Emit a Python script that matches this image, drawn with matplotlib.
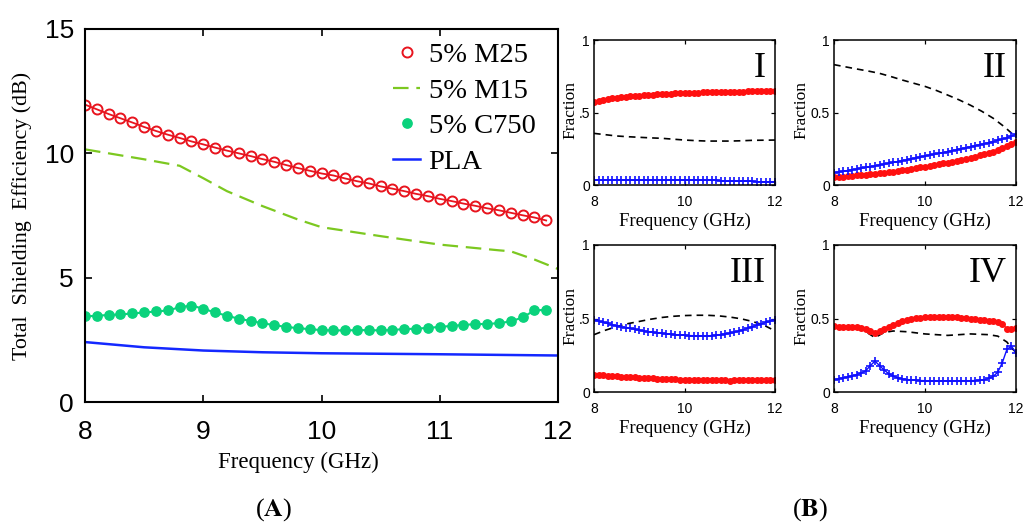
import matplotlib
matplotlib.use('Agg')
import matplotlib.pyplot as plt
import numpy as np

SANS = 'Liberation Sans'
SERIF = 'Liberation Serif'

# ---- panel A: total shielding efficiency ----
freq_a = np.round(np.arange(8.0, 11.95, 0.1), 1)
m25 = [11.96, 11.77, 11.58, 11.41, 11.24, 11.06, 10.90, 10.75, 10.62, 10.48,
       10.36, 10.23, 10.11, 10.00, 9.89, 9.77, 9.66, 9.53, 9.41, 9.30,
       9.19, 9.11, 8.99, 8.88, 8.79, 8.67, 8.58, 8.48, 8.37, 8.28,
       8.17, 8.08, 7.98, 7.89, 7.79, 7.71, 7.61, 7.51, 7.42, 7.30]
c750 = [3.44, 3.47, 3.50, 3.52, 3.56, 3.60, 3.64, 3.68, 3.81, 3.88,
        3.75, 3.60, 3.47, 3.35, 3.26, 3.17, 3.09, 3.02, 2.97, 2.93,
        2.89, 2.88, 2.88, 2.89, 2.89, 2.88, 2.90, 2.93, 2.95, 2.98,
        3.02, 3.06, 3.10, 3.13, 3.14, 3.17, 3.24, 3.40, 3.68, 3.71]
freq_m15 = [8.0, 8.5, 8.8, 9.0, 9.2, 9.5, 9.8, 10.0, 10.5, 11.0, 11.5, 11.6, 11.8, 12.0]
m15 = [10.16, 9.76, 9.50, 9.00, 8.48, 7.88, 7.34, 7.03, 6.67, 6.33, 6.10, 6.06, 5.73, 5.35]
freq_pla = [8.0, 8.5, 9.0, 9.5, 10.0, 11.0, 12.0]
pla = [2.41, 2.20, 2.07, 2.00, 1.96, 1.92, 1.87]

# ---- panel B: fractions (red dots, black dashed, blue plus) ----
freq_b = np.round(np.arange(8.0, 12.05, 0.1), 1)
freq_dash = np.arange(8.0, 12.01, 0.25)

i_red = [.575, .582, .588, .593, .598, .602, .606, .609, .612, .615,
         .617, .620, .622, .624, .626, .628, .630, .631, .632, .633,
         .634, .635, .636, .637, .638, .639, .640, .641, .641, .642,
         .643, .643, .644, .644, .645, .645, .646, .646, .646, .647, .647]
i_blue = [.036, .036, .036, .036, .036, .034, .034, .034, .034, .034,
          .034, .034, .034, .034, .034, .034, .035, .035, .035, .035,
          .035, .035, .035, .035, .035, .035, .035, .035, .028, .026,
          .026, .026, .026, .026, .026, .026, .022, .022, .022, .022, .022]
i_black = [.356, .347, .338, .333, .329, .325, .322, .316, .310, .306,
           .303, .303, .303, .305, .308, .309, .310]

ii_red = [.053, .055, .058, .060, .063, .066, .069, .072, .075, .078,
          .081, .085, .089, .093, .097, .101, .106, .111, .116, .121,
          .126, .131, .137, .143, .149, .155, .161, .167, .174, .181,
          .188, .196, .204, .213, .222, .231, .242, .254, .268, .283, .300]
ii_blue = [.085, .090, .095, .100, .105, .110, .116, .121, .127, .132,
           .138, .144, .150, .156, .162, .168, .174, .180, .187, .193,
           .200, .206, .212, .218, .224, .231, .237, .244, .250, .257,
           .264, .271, .278, .285, .292, .300, .308, .316, .325, .337, .350]
ii_black = [.830, .815, .800, .786, .770, .748, .724, .702, .680, .652,
            .620, .587, .550, .508, .460, .400, .330]

iii_red = [.118, .116, .114, .112, .110, .107, .105, .103, .101, .099,
           .097, .095, .094, .092, .091, .089, .088, .087, .086, .085,
           .084, .083, .082, .081, .080, .080, .079, .079, .079, .079,
           .078, .079, .079, .080, .080, .081, .081, .082, .083, .084, .085]
iii_blue = [.490, .482, .474, .466, .458, .450, .444, .438, .432, .426,
            .420, .415, .410, .406, .402, .399, .396, .393, .390, .388,
            .386, .384, .383, .382, .382, .382, .384, .387, .391, .395,
            .400, .407, .415, .424, .434, .444, .454, .464, .473, .482, .490]
iii_black = [.390, .420, .445, .465, .480, .495, .507, .515, .520, .522,
             .522, .518, .510, .498, .480, .455, .416]

iv_red = [.446, .445, .444, .443, .441, .439, .434, .427, .415, .398,
          .415, .430, .445, .458, .470, .480, .489, .496, .502, .506,
          .509, .511, .512, .512, .512, .511, .510, .508, .505, .502,
          .498, .495, .492, .489, .486, .482, .477, .465, .430, .428, .435]
iv_blue = [.084, .090, .096, .103, .110, .118, .128, .145, .180, .210,
           .180, .150, .125, .108, .097, .090, .085, .082, .080, .078,
           .077, .077, .076, .076, .076, .076, .076, .076, .077, .077,
           .077, .078, .080, .083, .092, .106, .135, .200, .290, .312, .265]
freq_iv_black = [8.0, 8.3, 8.6, 8.9, 9.1, 9.3, 9.6, 10.0, 10.5, 11.0, 11.4, 11.6, 11.8, 11.9, 12.0]
iv_black = [.445, .440, .430, .370, .405, .415, .410, .395, .385, .395, .390, .380, .340, .300, .270]

panels = [
    ('I', i_red, i_blue, freq_dash, i_black, ['0', '.5', '1']),
    ('II', ii_red, ii_blue, freq_dash, ii_black, ['0', '0.5', '1']),
    ('III', iii_red, iii_blue, freq_dash, iii_black, ['0', '.5', '1']),
    ('IV', iv_red, iv_blue, freq_iv_black, iv_black, ['0', '0.5', '1']),
]

W, H = 1023, 525


def px_axes(fig, left, top, right, bottom):
    return fig.add_axes([left / W, 1 - bottom / H, (right - left) / W, (bottom - top) / H])


def box_style(ax, lw, ticklen, labelsize, xpad, ypad):
    for s in ax.spines.values():
        s.set_linewidth(lw)
    ax.tick_params(direction='in', top=True, right=True, length=ticklen,
                   width=lw * 0.8, labelsize=labelsize)
    ax.tick_params(axis='x', pad=xpad)
    ax.tick_params(axis='y', pad=ypad)
    for lab in ax.get_xticklabels() + ax.get_yticklabels():
        lab.set_fontfamily(SANS)


fig = plt.figure(figsize=(W / 100, H / 100), dpi=100)

# main panel
ax = px_axes(fig, 85, 29, 558, 402)
green = '#0ad27c'
ax.plot(freq_pla, pla, color='#1428ff', lw=1.8, label='PLA')
ax.plot(freq_m15, m15, color='#7cc820', lw=1.6, dashes=(7, 3.5), label='5% M15')
ax.plot(freq_a, c750, color=green, lw=1.5)
ax.plot(freq_a, c750, 'o', color=green, ms=6.7, label='5% C750')
ax.plot(freq_a, m25, color='#e8141e', lw=1.3)
ax.plot(freq_a, m25, 'o', mfc='none', mec='#e8141e', mew=1.4, ms=7.2, label='5% M25')
ax.set_xlim(8, 12)
ax.set_ylim(0, 15)
ax.set_xticks([8, 9, 10, 11, 12])
ax.set_yticks([0, 5, 10, 15])
box_style(ax, 1.5, 5, 19, 13, 8)
ax.set_xlabel('Frequency (GHz)', fontfamily=SERIF, fontsize=16.5, va='center')
ax.xaxis.set_label_coords((298 - 85) / 473, (402 - 462) / 373)
ax.set_ylabel('Total  Shielding  Efficiency (dB)', fontfamily=SERIF, fontsize=15.8, va='center')
ax.yaxis.set_label_coords((22 - 85) / 473, (402 - 216) / 373)
handles, labels = ax.get_legend_handles_labels()
order = [3, 1, 2, 0]
leg = ax.legend([handles[k] for k in order], [labels[k] for k in order],
                loc='upper left', frameon=False, prop={'family': SERIF, 'size': 20.5},
                handlelength=0.95, handletextpad=0.3, labelspacing=0.34,
                borderaxespad=0, borderpad=0,
                bbox_to_anchor=((393 - 85) / 473, (402 - 42) / 373))

# small panels
boxes = [(594, 40, 775, 185), (834, 40, 1016, 185), (594, 245, 775, 392), (834, 245, 1016, 392)]
ylabel_offsets = [-24, -33, -24, -33]
for (name, red, blue, fx, black, ylabs), (l, t, r, b), yoff in zip(panels, boxes, ylabel_offsets):
    a = px_axes(fig, l, t, r, b)
    a.plot(fx, black, color='black', lw=1.2, dashes=(4, 3))
    a.plot(freq_b, red, '-o', color='#ff1010', lw=1.0, ms=4.0, mec='#ff1010')
    a.plot(freq_b, blue, '-+', color='#1010ff', lw=1.0, ms=5.5, mew=1.2)
    a.set_xlim(8, 12)
    a.set_ylim(0, 1)
    a.set_xticks([8, 10, 12])
    a.set_yticks([0, 0.5, 1])
    a.set_yticklabels(ylabs)
    box_style(a, 1.1, 3, 10, 7, 3)
    a.set_xlabel('Frequency (GHz)', fontfamily=SERIF, fontsize=13.5, va='center')
    a.xaxis.set_label_coords(0.5, -36 / (b - t))
    a.set_ylabel('Fraction', fontfamily=SERIF, fontsize=12.5, va='center')
    a.yaxis.set_label_coords(yoff / (r - l), 0.52)
    a.text(0.95, 0.92, name, transform=a.transAxes, ha='right', va='top',
           fontfamily=SERIF, fontsize=26)

plt.rcParams['mathtext.fontset'] = 'stix'
fig.text(274 / W, 1 - 510 / H, r'($\mathbf{A}$)', ha='center', va='center',
         fontfamily=SERIF, fontsize=19)
fig.text(810 / W, 1 - 510 / H, r'($\mathbf{B}$)', ha='center', va='center',
         fontfamily=SERIF, fontsize=19)

fig.savefig('out.png', dpi=100)
